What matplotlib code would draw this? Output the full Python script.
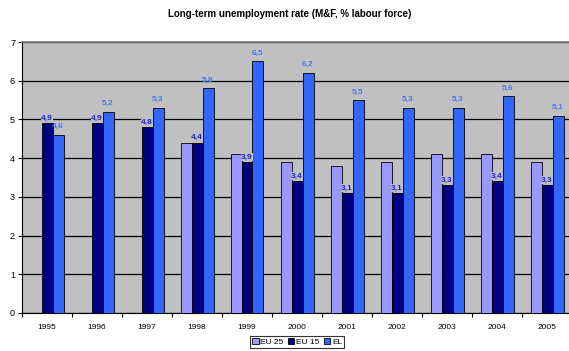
import numpy as np
import matplotlib
matplotlib.use("Agg")
import matplotlib.pyplot as plt

years = ["1995", "1996", "1997", "1998", "1999", "2000", "2001", "2002", "2003", "2004", "2005"]
eu25 = [np.nan, np.nan, np.nan, 4.4, 4.1, 3.9, 3.8, 3.9, 4.1, 4.1, 3.9]
eu15 = [4.9, 4.9, 4.8, 4.4, 3.9, 3.4, 3.1, 3.1, 3.3, 3.4, 3.3]
el = [4.6, 5.2, 5.3, 5.8, 6.5, 6.2, 5.5, 5.3, 5.3, 5.6, 5.1]
series_names = ["EU 25", "EU 15", "EL"]

plt.rcParams['font.family'] = ['Liberation Sans', 'DejaVu Sans']

W, H = 569, 351
fig = plt.figure(figsize=(W / 100, H / 100), dpi=100)
left, right, top, bottom = 22, 572, 42, 313
ax = fig.add_axes([left / W, 1 - bottom / H, (right - left) / W, (bottom - top) / H])
ax.set_facecolor('#c0c0c0')

x = np.arange(len(years))
w = 0.22
colors = ['#9999ff', '#000080', '#3366ff']
data = [eu25, eu15, el]
bars = []
for i, (vals, c, name) in enumerate(zip(data, colors, series_names)):
    b = ax.bar(x + (i - 1) * w, vals, width=w, color=c, edgecolor='black',
               linewidth=0.6, label=name, zorder=3)
    bars.append(b)

for xi, v in zip(x, eu15):
    ax.text(xi, v + 0.04, f"{v:.1f}".replace('.', ','), ha='center', va='bottom',
            fontsize=6, fontweight='bold', color='#2020d0', zorder=4,
            bbox=dict(facecolor='#c0c0c0', edgecolor='none', pad=0.3))
for xi, v in zip(x, el):
    ax.text(xi + w, v + 0.12, f"{v:.1f}".replace('.', ','), ha='center', va='bottom',
            fontsize=6, fontweight='bold', color='#4477ff', zorder=4)

ax.set_xlim(-0.5, len(years) - 0.5)
ax.set_ylim(0, 7)
ax.set_yticks(range(0, 8))
ax.yaxis.grid(True, color='black', linewidth=0.9, zorder=1)
ax.set_axisbelow(True)
ax.set_xticks(x)
ax.set_xticklabels(years)
ax.set_xticks(np.arange(-0.5, len(years), 1), minor=True)
ax.tick_params(axis='x', which='major', length=0, pad=8, labelsize=6)
ax.tick_params(axis='x', which='minor', length=3, direction='out', width=0.8)
ax.tick_params(axis='y', length=3, direction='out', width=0.8, labelsize=6.5, pad=2)
ax.spines['left'].set_color('black')
ax.spines['bottom'].set_color('black')
ax.spines['top'].set_color('#808080')
ax.spines['top'].set_linewidth(1.2)
ax.spines['right'].set_visible(False)

fig.text(290 / W, 1 - 14 / H, "Long-term unemployment rate (M&F, % labour force)",
         ha='center', va='center', fontsize=7, fontweight='bold')

leg = fig.legend(handles=bars, labels=series_names, loc='center',
                 bbox_to_anchor=(297 / W, 1 - 342 / H), ncol=3, fontsize=6,
                 frameon=True, fancybox=False, edgecolor='black', handlelength=0.8,
                 handleheight=0.8, handletextpad=0.2, columnspacing=0.5,
                 borderpad=0.25, borderaxespad=0)
leg.get_frame().set_linewidth(0.8)

fig.savefig("out.png", dpi=100)
